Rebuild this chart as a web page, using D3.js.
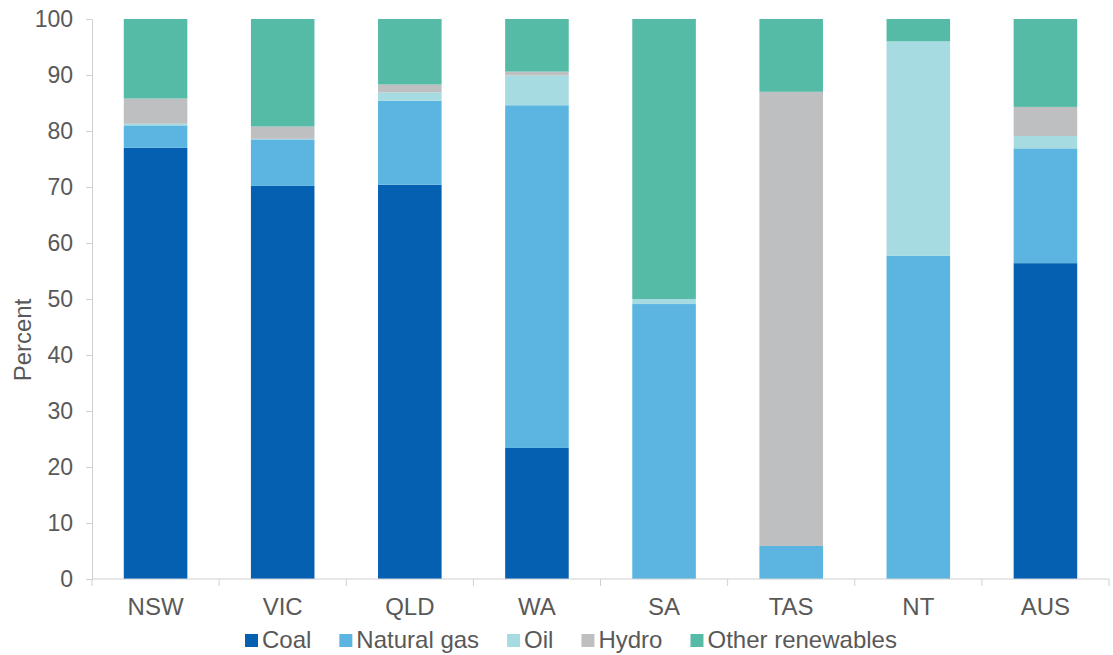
<!DOCTYPE html>
<html>
<head>
<meta charset="utf-8">
<script src="https://cdn.jsdelivr.net/npm/d3@7"></script>
<style>
  body { margin: 0; background: #fff; }
  text { font-family: "Liberation Sans", Arial, sans-serif; fill: #595959; }
</style>
</head>
<body>
<div id="chart"></div>
<script>
// categories and series (percent of electricity generation)
const states = ['NSW', 'VIC', 'QLD', 'WA', 'SA', 'TAS', 'NT', 'AUS']
const fuels = ['Coal', 'Natural gas', 'Oil', 'Hydro', 'Other renewables']
const coal = [77.0, 70.2, 70.4, 23.4, 0, 0, 0, 56.4]
const naturalGas = [4.0, 8.3, 15.0, 61.2, 49.1, 5.9, 57.7, 20.5]
const oil = [0.3, 0.1, 1.5, 5.3, 0.9, 0, 38.3, 2.2]
const hydro = [4.5, 2.2, 1.4, 0.7, 0, 81.1, 0, 5.2]
const otherRenewables = [14.2, 19.2, 11.7, 9.4, 50.0, 13.0, 4.0, 15.7]
const yTicks = [0, 10, 20, 30, 40, 50, 60, 70, 80, 90, 100]
const colorArr = ['#0660b2', '#5bb5e0', '#a6dbe1', '#bdbfc1', '#56bba6']

const width = 1113
const height = 655
const plotLeft = 92
const plotRight = 1109
const plotTop = 19
const plotBottom = 579

// 组装堆叠数据
const rows = states.map((s, i) => ({
  state: s,
  'Coal': coal[i],
  'Natural gas': naturalGas[i],
  'Oil': oil[i],
  'Hydro': hydro[i],
  'Other renewables': otherRenewables[i]
}))
const stacked = d3.stack().keys(fuels)(rows)

const svg = d3.select('#chart').append('svg').attr('width', width).attr('height', height)

const x = d3.scaleBand().domain(states).range([plotLeft, plotRight]).paddingInner(0.5).paddingOuter(0.25)
const y = d3.scaleLinear().domain([0, 100]).range([plotBottom, plotTop])
const color = d3.scaleOrdinal().domain(fuels).range(colorArr)

// bars
svg.append('g').selectAll('g').data(stacked).join('g')
  .attr('fill', d => color(d.key))
  .selectAll('rect').data(d => d).join('rect')
  .attr('x', d => x(d.data.state))
  .attr('width', x.bandwidth())
  .attr('y', d => y(d[1]))
  .attr('height', d => y(d[0]) - y(d[1]))

// y axis
const yAxis = d3.axisLeft(y).tickValues(yTicks).tickSize(6).tickPadding(13)
const gy = svg.append('g').attr('transform', 'translate(' + plotLeft + ',0)').call(yAxis)
gy.select('.domain').attr('stroke', '#d0d0d0')
gy.selectAll('.tick line').attr('stroke', '#d0d0d0')
gy.selectAll('.tick text').attr('font-size', '23px').style('fill', '#595959')

// x axis (ticks at band boundaries)
const gx = svg.append('g').attr('transform', 'translate(0,' + plotBottom + ')')
gx.append('line').attr('x1', plotLeft).attr('x2', plotRight).attr('stroke', '#d0d0d0')
const step = x.step()
d3.range(states.length + 1).forEach(i => {
  const xx = plotLeft + i * step
  gx.append('line').attr('x1', xx).attr('x2', xx).attr('y1', 0).attr('y2', 7).attr('stroke', '#d0d0d0')
})
gx.selectAll('text.lab').data(states).join('text')
  .attr('class', 'lab')
  .attr('x', d => x(d) + x.bandwidth() / 2)
  .attr('y', 36)
  .attr('text-anchor', 'middle')
  .attr('font-size', '24px')
  .text(d => d)

// y title
svg.append('text')
  .attr('transform', 'translate(31,340) rotate(-90)')
  .attr('text-anchor', 'middle')
  .attr('font-size', '24px')
  .text('Percent')

// legend
const legend = svg.append('g').attr('transform', 'translate(245,648)')
let lx = 0
fuels.forEach((f, i) => {
  legend.append('rect').attr('x', lx).attr('y', -14).attr('width', 13).attr('height', 13).attr('fill', colorArr[i])
  const t = legend.append('text').attr('x', lx + 17).attr('y', 0).attr('font-size', '24px').text(f)
  lx += 17 + t.node().getComputedTextLength() + 28
})
</script>
</body>
</html>
